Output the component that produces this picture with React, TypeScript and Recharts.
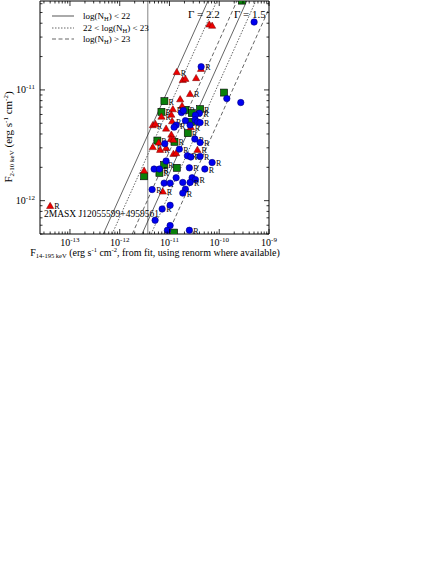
import React from 'react';
import { ScatterChart, Scatter, XAxis, YAxis, ReferenceLine } from 'recharts';

const FONT = '"Liberation Serif", "Times New Roman", serif';

// axis ranges & ticks
const X_DOMAIN: [number, number] = [2.5e-14, 1e-9];
const Y_DOMAIN: [number, number] = [5e-13, 6.35e-11];
const xMajorTicks = [1e-13, 1e-12, 1e-11, 1e-10, 1e-9];
const yMajorTicks = [1e-12, 1e-11];
const xDecades = [1e-14, 1e-13, 1e-12, 1e-11, 1e-10];
const yDecades = [1e-13, 1e-12, 1e-11];
const mantissas = [2, 3, 4, 5, 6, 7, 8, 9];

// model lines: F(2-10) / F(14-195) ratio (Gamma=2.2 then Gamma=1.5; NH low, mid, high)
const modelRatios = [1.07, 0.71, 0.28, 0.178, 0.117, 0.054];
const modelDash = ['', '1.5 1.5', '4 2.5', '', '1.5 1.5', '4 2.5'];
const fluxLimitX = 3.66e-12;

// [F14-195, F2-10, has "R" label]
const redTriangles: [number, number, boolean][] = [
  [6.3e-11, 3.9e-11, false], [7.2e-11, 3.8e-11, false], [4.3e-11, 1.55e-11, false],
  [1.4e-11, 1.45e-11, true], [1.85e-11, 1.23e-11, false], [2.09e-11, 1.26e-11, false],
  [3.43e-11, 1.28e-11, false], [2.59e-11, 9.2e-12, true], [1.64e-11, 8.24e-12, false],
  [1.79e-11, 7.18e-12, false], [1.17e-11, 6.7e-12, true], [6.89e-12, 5.74e-12, true],
  [1.09e-11, 5.98e-12, false], [1.13e-11, 5.22e-12, true], [4.62e-12, 4.81e-12, true],
  [5.21e-12, 4.94e-12, false], [8.55e-12, 4.48e-12, false], [2.69e-11, 4.61e-12, true],
  [1.09e-11, 3.95e-12, false], [1.06e-11, 3.6e-12, false], [1.2e-11, 3.55e-12, false],
  [6.09e-12, 3.35e-12, false], [4.62e-12, 3.05e-12, true], [6.49e-12, 2.88e-12, true],
  [8.55e-12, 3.0e-12, false], [1.2e-11, 2.65e-12, false], [1.36e-11, 2.69e-12, false],
  [3.64e-11, 2.88e-12, true], [3.09e-12, 1.87e-12, false], [7.35e-12, 1.21e-12, true],
  [4.0e-14, 8.96e-13, true],
];

const greenSquares: [number, number, boolean][] = [
  [2.84e-10, 6.4e-11, false], [1.25e-10, 9.46e-12, false], [7.91e-12, 7.91e-12, true],
  [6.89e-12, 6.34e-12, true], [2.09e-11, 6.61e-12, true], [4.12e-11, 6.7e-12, true],
  [2.81e-11, 6.17e-12, true], [2.72e-11, 5.15e-12, true], [2.33e-11, 4.07e-12, true],
  [5.71e-12, 3.49e-12, true], [1.26e-11, 3.4e-12, true], [7.8e-12, 2.1e-12, true],
  [1.4e-11, 1.98e-12, false], [3.09e-12, 1.66e-12, false], [6.28e-12, 1.78e-12, true],
  [1.24e-11, 5.15e-13, false],
];

const blueCircles: [number, number, boolean][] = [
  [5.02e-10, 4.1e-11, false], [4.33e-11, 1.62e-11, true], [1.42e-10, 8.35e-12, false],
  [2.71e-10, 7.69e-12, false], [1.74e-11, 6.24e-12, false], [1.91e-11, 6.52e-12, false],
  [3.99e-11, 6.17e-12, true], [3.32e-11, 5.92e-12, false], [2.09e-11, 5.28e-12, false],
  [3.27e-11, 5.37e-12, false], [3.64e-11, 5.15e-12, false], [4.12e-11, 5.07e-12, true],
  [1.36e-11, 4.81e-12, true], [1.24e-11, 4.61e-12, false], [2.59e-11, 4.81e-12, false],
  [3.23e-11, 3.6e-12, true], [4.12e-11, 3.35e-12, true], [8.05e-12, 3.27e-12, false],
  [1.58e-11, 2.92e-12, true], [2.29e-11, 2.54e-12, true], [2.69e-11, 2.48e-12, true],
  [4.12e-11, 2.51e-12, true], [7.19e-11, 2.21e-12, true], [8.55e-12, 2.28e-12, false],
  [2.51e-11, 1.98e-12, true], [5.13e-11, 1.93e-12, true], [4.91e-12, 1.93e-12, false],
  [6.28e-12, 1.93e-12, true], [1.36e-11, 1.61e-12, false], [2.85e-11, 1.61e-12, false],
  [3.32e-11, 1.55e-12, true], [7.8e-12, 1.44e-12, true], [1.03e-11, 1.44e-12, false],
  [1.85e-11, 1.46e-12, false], [2.59e-11, 1.46e-12, true], [2.09e-11, 1.27e-12, false],
  [1.85e-11, 1.17e-12, true], [4.48e-12, 1.26e-12, true], [7.12e-12, 8.41e-13, true],
  [1.03e-11, 9.08e-13, false], [5.14e-12, 6.65e-13, false], [1.03e-11, 5.96e-13, false],
  [9.08e-12, 5.4e-13, false], [2.51e-11, 5.4e-13, true],
];

const legendLabels = ['22', '23', '23'];

const inRange = (v: number, d: [number, number]) => v >= d[0] * 0.999 && v <= d[1] * 1.001;
const xTicks = [...xMajorTicks, ...xDecades.flatMap((d) => mantissas.map((m) => m * d))].filter((v) => inRange(v, X_DOMAIN));
const yTicks = [...yMajorTicks, ...yDecades.flatMap((d) => mantissas.map((m) => m * d))].filter((v) => inRange(v, Y_DOMAIN));

const isMajor = (v: number) => {
  const l = Math.log10(v);
  return Math.abs(l - Math.round(l)) < 1e-6;
};
const expOf = (v: number) => String(Math.round(Math.log10(v)));

const toPts = (arr: [number, number, boolean][]) => arr.map(([x, y, r]) => ({ x, y, r }));

const TICK_COLOR = '#000';

const BottomTick = (p: any) => {
  const { x, y, payload } = p;
  const maj = isMajor(payload.value);
  return (
    <g>
      <line x1={x} x2={x} y1={y} y2={y - (maj ? 5 : 2.5)} stroke={TICK_COLOR} strokeWidth={0.8} />
      {maj && (
        <text x={x} y={y + 12} textAnchor="middle" fontFamily={FONT} fontSize={10} fill="#000">
          10<tspan dy={-4} fontSize={7}>{expOf(payload.value)}</tspan>
        </text>
      )}
    </g>
  );
};
const TopTick = (p: any) => {
  const { x, y, payload } = p;
  const maj = isMajor(payload.value);
  return <line x1={x} x2={x} y1={y} y2={y + (maj ? 5 : 2.5)} stroke={TICK_COLOR} strokeWidth={0.8} />;
};
const LeftTick = (p: any) => {
  const { x, y, payload } = p;
  const maj = isMajor(payload.value);
  return (
    <g>
      <line x1={x} x2={x + (maj ? 5 : 2.5)} y1={y} y2={y} stroke={TICK_COLOR} strokeWidth={0.8} />
      {maj && (
        <text x={x - 5} y={y + 3.5} textAnchor="end" fontFamily={FONT} fontSize={10} fill="#000">
          10<tspan dy={-4} fontSize={7}>{expOf(payload.value)}</tspan>
        </text>
      )}
    </g>
  );
};
const RightTick = (p: any) => {
  const { x, y, payload } = p;
  const maj = isMajor(payload.value);
  return <line x1={x} x2={x - (maj ? 5 : 2.5)} y1={y} y2={y} stroke={TICK_COLOR} strokeWidth={0.8} />;
};

const RLabel = ({ cx, cy }: { cx: number; cy: number }) => (
  <text x={cx + 4} y={cy + 3.5} fontFamily={FONT} fontSize={8} fill="#000">R</text>
);

const CircleShape = (p: any) => {
  const { cx, cy, payload } = p;
  return (
    <g>
      <circle cx={cx} cy={cy} r={3.2} fill="#0000f0" stroke="#000080" strokeWidth={0.6} />
      {payload.r && <RLabel cx={cx} cy={cy} />}
    </g>
  );
};
const TriangleShape = (p: any) => {
  const { cx, cy, payload } = p;
  return (
    <g>
      <polygon points={`${cx},${cy - 3.6} ${cx - 3.6},${cy + 2.6} ${cx + 3.6},${cy + 2.6}`} fill="#ee0000" stroke="#700000" strokeWidth={0.5} />
      {payload.r && <RLabel cx={cx} cy={cy} />}
    </g>
  );
};
const SquareShape = (p: any) => {
  const { cx, cy, payload } = p;
  return (
    <g>
      <rect x={cx - 3.5} y={cy - 3.5} width={7} height={7} fill="#0a800a" stroke="#000" strokeWidth={0.6} />
      {payload.r && <RLabel cx={cx} cy={cy} />}
    </g>
  );
};

const segmentFor = (k: number) => {
  let x1 = Y_DOMAIN[0] / k;
  let y1 = Y_DOMAIN[0];
  if (x1 < X_DOMAIN[0]) { x1 = X_DOMAIN[0]; y1 = k * x1; }
  let x2 = Y_DOMAIN[1] / k;
  let y2 = Y_DOMAIN[1];
  if (x2 > X_DOMAIN[1]) { x2 = X_DOMAIN[1]; y2 = k * x2; }
  return [{ x: x1, y: y1 }, { x: x2, y: y2 }];
};

const W = 436;
const H = 564;
const PLOT = { left: 40, right: 269, top: 1, bottom: 234 };
const AX = 1; // axis band thickness (must be >0 for recharts to draw the axis)

export default function App() {
  return (
    <div style={{ position: 'absolute', left: 0, top: 0, width: W, height: H, background: '#fff' }}>
      <ScatterChart
        width={W}
        height={H}
        margin={{ top: PLOT.top - AX, left: PLOT.left - AX, right: W - PLOT.right - AX, bottom: H - PLOT.bottom - AX }}
      >
        <XAxis
          xAxisId={0}
          type="number"
          dataKey="x"
          scale="log"
          domain={X_DOMAIN}
          allowDataOverflow
          ticks={xTicks}
          interval={0}
          height={AX}
          tickSize={0}
          tickMargin={0}
          tickLine={false}
          tick={<BottomTick />}
          axisLine={{ stroke: '#000', strokeWidth: 1 }}
        />
        <XAxis
          xAxisId="top"
          orientation="top"
          type="number"
          dataKey="x"
          scale="log"
          domain={X_DOMAIN}
          allowDataOverflow
          ticks={xTicks}
          interval={0}
          height={AX}
          tickSize={0}
          tickMargin={0}
          tickLine={false}
          tick={<TopTick />}
          axisLine={{ stroke: '#000', strokeWidth: 1 }}
        />
        <YAxis
          yAxisId={0}
          type="number"
          dataKey="y"
          scale="log"
          domain={Y_DOMAIN}
          allowDataOverflow
          ticks={yTicks}
          interval={0}
          width={AX}
          tickSize={0}
          tickMargin={0}
          tickLine={false}
          tick={<LeftTick />}
          axisLine={{ stroke: '#000', strokeWidth: 1 }}
        />
        <YAxis
          yAxisId="right"
          orientation="right"
          type="number"
          dataKey="y"
          scale="log"
          domain={Y_DOMAIN}
          allowDataOverflow
          ticks={yTicks}
          interval={0}
          width={AX}
          tickSize={0}
          tickMargin={0}
          tickLine={false}
          tick={<RightTick />}
          axisLine={{ stroke: '#000', strokeWidth: 1 }}
        />
        <ReferenceLine x={fluxLimitX} xAxisId={0} yAxisId={0} stroke="#999" strokeWidth={1.2} ifOverflow="visible" />
        {modelRatios.map((k, i) => (
          <ReferenceLine
            key={i}
            xAxisId={0}
            yAxisId={0}
            segment={segmentFor(k)}
            stroke="#222"
            strokeWidth={0.7}
            strokeDasharray={modelDash[i] || undefined}
            ifOverflow="visible"
          />
        ))}
        <Scatter name="green" data={toPts(greenSquares)} shape={SquareShape} isAnimationActive={false} xAxisId={0} yAxisId={0} />
        <Scatter name="red" data={toPts(redTriangles)} shape={TriangleShape} isAnimationActive={false} xAxisId={0} yAxisId={0} />
        <Scatter name="blue" data={toPts(blueCircles)} shape={CircleShape} isAnimationActive={false} xAxisId={0} yAxisId={0} />
      </ScatterChart>
      <svg width={W} height={H} style={{ position: 'absolute', left: 0, top: 0, pointerEvents: 'none' }}>
        {/* legend */}
        <line x1={52} x2={74} y1={16} y2={16} stroke="#aaa" strokeWidth={2} />
        <text x={83} y={19} fontFamily={FONT} fontSize={9} fill="#000">
          log(N<tspan dy={2} fontSize={6.5}>H</tspan><tspan dy={-2}>) &lt; {legendLabels[0]}</tspan>
        </text>
        <line x1={52} x2={74} y1={28} y2={28} stroke="#222" strokeWidth={0.7} strokeDasharray="1.5 1.5" />
        <text x={83} y={31} fontFamily={FONT} fontSize={9} fill="#000">
          22 &lt; log(N<tspan dy={2} fontSize={6.5}>H</tspan><tspan dy={-2}>) &lt; {legendLabels[1]}</tspan>
        </text>
        <line x1={52} x2={74} y1={39} y2={39} stroke="#222" strokeWidth={0.7} strokeDasharray="4 2.5" />
        <text x={83} y={42} fontFamily={FONT} fontSize={9} fill="#000">
          log(N<tspan dy={2} fontSize={6.5}>H</tspan><tspan dy={-2}>) &gt; {legendLabels[2]}</tspan>
        </text>
        {/* gamma labels */}
        <text x={188} y={18} fontFamily={FONT} fontSize={11} fill="#000">Γ = 2.2</text>
        <text x={234} y={18} fontFamily={FONT} fontSize={11} fill="#000">Γ = 1.5</text>
        {/* source annotation */}
        <text x={44} y={217} fontFamily={FONT} fontSize={9.5} fill="#000">2MASX J12055599+4959561</text>
        {/* axis titles */}
        <text x={155} y={256} textAnchor="middle" fontFamily={FONT} fontSize={10} fill="#000">
          F<tspan dy={2} fontSize={6.5}>14-195 keV</tspan>
          <tspan dy={-2}> (erg s</tspan><tspan dy={-4} fontSize={6.5}>-1</tspan>
          <tspan dy={4}> cm</tspan><tspan dy={-4} fontSize={6.5}>-2</tspan>
          <tspan dy={4}>, from fit, using renorm where available)</tspan>
        </text>
        <text x={12} y={137} textAnchor="middle" transform="rotate(-90 12 137)" fontFamily={FONT} fontSize={11} fill="#000">
          F<tspan dy={2} fontSize={7}>2-10 keV</tspan>
          <tspan dy={-2}> (erg s</tspan><tspan dy={-4} fontSize={7}>-1</tspan>
          <tspan dy={4}> cm</tspan><tspan dy={-4} fontSize={7}>-2</tspan>
          <tspan dy={4}>)</tspan>
        </text>
      </svg>
    </div>
  );
}
